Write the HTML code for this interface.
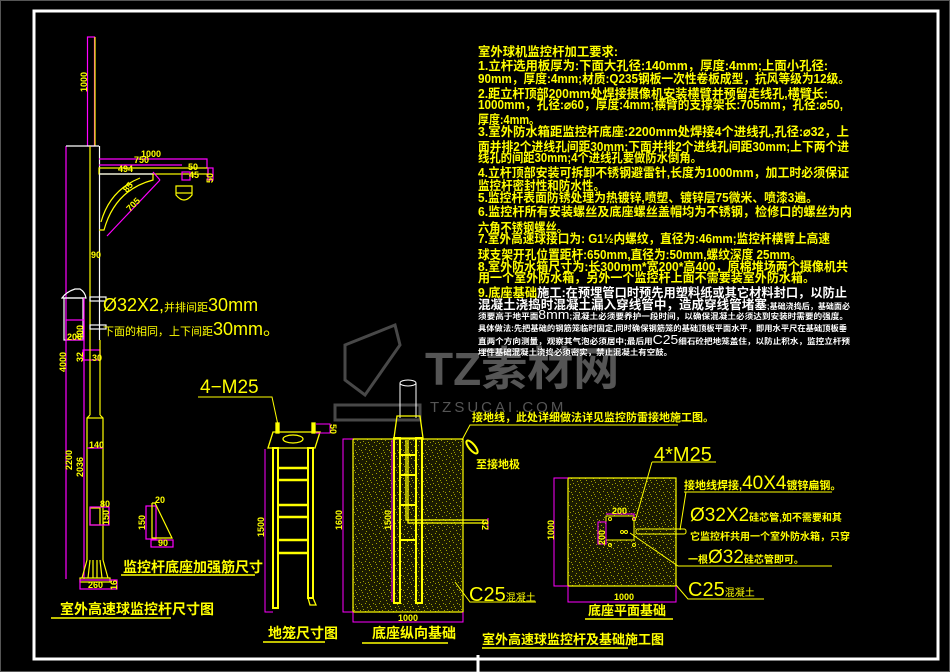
<!DOCTYPE html>
<html><head><meta charset="utf-8"><style>
html,body{margin:0;padding:0;background:#000;}
svg{display:block}
text{font-family:"Liberation Sans","Noto Sans CJK SC","WenQuanYi Zen Hei",sans-serif;}
</style></head><body>
<svg width="950" height="672" viewBox="0 0 950 672" xmlns="http://www.w3.org/2000/svg">
<defs>
<pattern id="st" width="14" height="14" patternUnits="userSpaceOnUse">
<rect width="14" height="14" fill="#1a1a00"/>
<g fill="#a0a000">
<rect x="1" y="1" width="1" height="1"/><rect x="5" y="2" width="1" height="1"/><rect x="9" y="1" width="1" height="1"/><rect x="12" y="4" width="1" height="1"/>
<rect x="3" y="5" width="1" height="1"/><rect x="7" y="6" width="1" height="1"/><rect x="10" y="8" width="1" height="1"/><rect x="1" y="9" width="1" height="1"/>
<rect x="5" y="10" width="1" height="1"/><rect x="8" y="12" width="1" height="1"/><rect x="12" y="11" width="1" height="1"/><rect x="2" y="13" width="1" height="1"/>
<rect x="6" y="4" width="1" height="1"/><rect x="11" y="2" width="1" height="1"/><rect x="4" y="8" width="1" height="1"/><rect x="13" y="7" width="1" height="1"/>
</g></pattern>
</defs>
<rect width="950" height="672" fill="#000"/>
<rect x="0" y="0" width="950" height="672" fill="none" stroke="#555" stroke-width="2"/>
<rect x="34" y="11" width="904" height="648" fill="none" stroke="#fff" stroke-width="3"/>

<!-- watermark -->
<g fill="none" stroke="#5a5a5a" stroke-width="3" opacity="0.8">
<path d="M345 345 L395 325 L400 345 L365 395 L345 380 Z"/>
<path d="M335 405 L420 405 L420 420 L335 420 Z"/>
</g>
<text x="425" y="385" font-size="46" font-weight="bold" fill="#555">TZ素材网</text>
<text x="430" y="412" font-size="15" fill="#555" letter-spacing="3">TZSUCAI.COM</text>

<!-- LEFT POLE -->
<g fill="none" stroke-width="1.2">
<rect x="87.5" y="37" width="7" height="109" stroke="#f0f"/>
<line x1="95" y1="37" x2="95" y2="146" stroke="#ff0"/>
<line x1="66" y1="146" x2="66" y2="579" stroke="#f0f"/>
<line x1="66" y1="146" x2="99" y2="146" stroke="#fff"/>
<line x1="90" y1="146" x2="90" y2="340" stroke="#ff0"/>
<line x1="99.5" y1="146" x2="99.5" y2="340" stroke="#fff"/>
<!-- arm -->
<polyline points="99,159 207,159 207,168" stroke="#f0f"/>
<line x1="99" y1="165" x2="182" y2="165" stroke="#f0f"/>
<rect x="99" y="168" width="109" height="6" stroke="#ff0"/>
<rect x="208" y="168" width="5" height="12" stroke="#f0f"/>
<line x1="99" y1="174" x2="153" y2="174" stroke="#fff"/>
<path d="M153 174 L153 180 Q115 190 104 230 L99 230" stroke="#ff0"/>
<path d="M140 178 Q110 190 101 222" stroke="#ff0"/>
<line x1="160" y1="180" x2="107" y2="236" stroke="#f0f"/>
<line x1="153" y1="172" x2="160" y2="180" stroke="#f0f"/>
<rect x="182" y="172" width="8" height="8" stroke="#f0f"/>
<path d="M176 186 L192 186 L192 195 Q184 205 176 195 Z" stroke="#ff0"/>
<line x1="176" y1="193" x2="192" y2="193" stroke="#ff0"/>
<!-- junction box -->
<path d="M62 298 Q66 292 75 289 L80 289 Q85 292 86 298 Z" stroke="#fff"/>
<rect x="64" y="298" width="19" height="42" stroke="#fff"/>
<rect x="66" y="320" width="18" height="20" stroke="#f0f"/>
<line x1="84" y1="298" x2="84" y2="579" stroke="#f0f"/>
<rect x="90" y="297" width="16" height="4" stroke="#fff"/>
<rect x="90" y="325" width="16" height="4" stroke="#fff"/>
<rect x="83" y="350" width="17" height="10" stroke="#f0f"/>
<!-- lower pole -->
<line x1="90" y1="340" x2="90" y2="415" stroke="#ff0"/>
<line x1="100" y1="340" x2="100" y2="415" stroke="#ff0"/>
<path d="M90 415 L87 418 L87 560 M100 415 L103 418 L103 560" stroke="#ff0"/>
<line x1="87" y1="418" x2="103" y2="418" stroke="#ff0"/>
<line x1="87" y1="448" x2="103" y2="448" stroke="#f0f"/>
<path d="M87 560 L82 578 M103 560 L108 578 M90 560 L88 578 M93 560 L93 578 M97 560 L97 578 M100 560 L102 578" stroke="#ff0"/>
<rect x="80" y="578" width="30" height="4" stroke="#ff0"/>
<rect x="80" y="580" width="37" height="9" stroke="#f0f"/>
<rect x="90" y="508" width="10" height="17" stroke="#ff0"/>
<rect x="90" y="507" width="19" height="18" stroke="#f0f"/>
<!-- gusset -->
<rect x="146" y="506" width="10" height="33" stroke="#f0f"/>
<rect x="151" y="540" width="22" height="7" stroke="#f0f"/>
<polyline points="152,503 152,538 172,538 155,503 152,503" stroke="#ff0"/>
</g>
<g fill="#ff0" font-weight="bold" font-size="9">
<text transform="translate(87,92) rotate(-90)">1000</text>
<text x="141" y="157" fill="#ff0">1000</text>
<text x="134" y="163">750</text>
<text x="118" y="172">494</text>
<text x="188" y="170">50</text>
<text x="189" y="178">45</text>
<text transform="translate(213,183) rotate(-90)">50</text>
<text transform="translate(127,193) rotate(-50)">85</text>
<text transform="translate(130,212) rotate(-45)">705</text>
<text x="91" y="258">90</text>
<text transform="translate(83,340) rotate(-90)">400</text>
<text x="67" y="340">200</text>
<text transform="translate(66,372) rotate(-90)">4000</text>
<text transform="translate(83,362) rotate(-90)">32</text>
<text x="92" y="361">30</text>
<text x="89" y="448">140</text>
<text transform="translate(72,470) rotate(-90)">2200</text>
<text transform="translate(83,477) rotate(-90)">2036</text>
<text x="100" y="507">80</text>
<text transform="translate(109,525) rotate(-90)">150</text>
<text x="88" y="588">260</text>
<text transform="translate(117,590) rotate(-90)">16</text>
<text x="155" y="503">20</text>
<text transform="translate(145,530) rotate(-90)">150</text>
<text x="158" y="546">90</text>
</g>
<text x="103" y="311" font-size="18" fill="#ff0">Ø32X2,<tspan font-size="11">并排间距</tspan>30mm</text>
<text x="103" y="335" font-size="11" fill="#ff0">下面的相同，上下间距<tspan font-size="18">30mm。</tspan></text>
<text x="123" y="572" font-size="14" font-weight="bold" fill="#ff0">监控杆底座加强筋尺寸</text>
<line x1="121" y1="575" x2="255" y2="575" stroke="#ff0" stroke-width="1.5"/>
<text x="60" y="614" font-size="14" font-weight="bold" fill="#ff0">室外高速球监控杆尺寸图</text>
<line x1="51" y1="618" x2="171" y2="618" stroke="#ff0" stroke-width="1.5"/>

<!-- CAGE -->
<text x="200" y="393" font-size="19" fill="#ff0">4−M25</text>
<polyline points="198,397 272,397 278,425" fill="none" stroke="#ff0"/>
<g fill="none" stroke="#ff0" stroke-width="1.3">
<path d="M268 448 L273 432 L320 432 L315 448 Z"/>
<ellipse cx="293" cy="439" rx="10" ry="4"/>
<rect x="276" y="423" width="3" height="10" fill="#ff0"/>
<rect x="312" y="423" width="3" height="10" fill="#ff0"/>
<rect x="273" y="448" width="5" height="160" stroke-width="2"/>
<rect x="308" y="448" width="5" height="150" stroke-width="2"/>
<path d="M308 598 L310 605 L316 605 L313 598"/>
<g stroke-width="2.5"><line x1="278" y1="468" x2="308" y2="468"/><line x1="278" y1="480" x2="308" y2="480"/><line x1="278" y1="505" x2="308" y2="505"/><line x1="278" y1="517" x2="308" y2="517"/><line x1="278" y1="540" x2="308" y2="540"/><line x1="278" y1="553" x2="308" y2="553"/></g>
</g>
<polyline points="265,449 265,612 273,612" fill="none" stroke="#f0f"/>
<polyline points="316,424 330,424 330,433 316,433" fill="none" stroke="#f0f"/>
<g fill="#ff0" font-weight="bold" font-size="9">
<text transform="translate(264,537) rotate(-90)">1500</text>
<text transform="translate(330,424) rotate(90)">50</text>
</g>
<text x="268" y="638" font-size="14" font-weight="bold" fill="#ff0">地笼尺寸图</text>
<line x1="263" y1="642" x2="325" y2="642" stroke="#ff0" stroke-width="1.5"/>

<!-- LONGITUDINAL FOUNDATION -->
<rect x="353" y="439" width="110" height="173" fill="url(#st)" stroke="#ff0" stroke-width="1.2"/>
<g fill="none" stroke="#fff" stroke-width="1">
<ellipse cx="408" cy="383" rx="8" ry="3"/>
<line x1="400" y1="383" x2="400" y2="418"/><line x1="416" y1="383" x2="416" y2="418"/>
</g>
<g fill="none" stroke="#ff0" stroke-width="1.3">
<path d="M394 438 L397 416 L420 416 L423 438 Z"/>
<rect x="394" y="438" width="6" height="165" stroke-width="2"/>
<rect x="416" y="438" width="6" height="165" stroke-width="2"/>
<g stroke-width="2"><line x1="400" y1="455" x2="416" y2="455"/><line x1="400" y1="475" x2="416" y2="475"/><line x1="400" y1="505" x2="416" y2="505"/><line x1="400" y1="540" x2="416" y2="540"/></g>
<polyline points="406,440 406,520 488,520"/><polyline points="408,440 408,523 488,523"/>
</g>
<polyline points="353,439 343,439 343,612 353,612" fill="none" stroke="#f0f"/>
<polyline points="353,612 353,622 463,622 463,612" fill="none" stroke="#f0f"/>
<line x1="392" y1="440" x2="392" y2="602" stroke="#f0f"/>
<line x1="488" y1="518" x2="488" y2="530" stroke="#f0f"/>
<g fill="#ff0" font-weight="bold" font-size="9">
<text transform="translate(342,530) rotate(-90)">1600</text>
<text transform="translate(391,530) rotate(-90)">1500</text>
<text transform="translate(482,520) rotate(90)">32</text>
<text x="398" y="621">1000</text>
</g>
<text x="372" y="638" font-size="14" font-weight="bold" fill="#ff0">底座纵向基础</text>
<line x1="362" y1="643" x2="448" y2="643" stroke="#ff0" stroke-width="1.5"/>
<text x="472" y="421" font-size="11" font-weight="bold" fill="#ff0">接地线，此处详细做法详见监控防雷接地施工图。</text>
<polyline points="678,425 470,425 462,440" fill="none" stroke="#ff0"/>
<ellipse cx="472" cy="447" rx="3" ry="8" transform="rotate(-40 472 447)" fill="none" stroke="#ff0" stroke-width="2"/>
<text x="476" y="468" font-size="11" font-weight="bold" fill="#ff0">至接地极</text>
<text x="469" y="601" font-size="20" fill="#ff0">C25<tspan font-size="10">混凝土</tspan></text>
<polyline points="455,582 470,602 536,602" fill="none" stroke="#ff0"/>

<!-- PLAN -->
<rect x="568" y="478" width="108" height="108" fill="url(#st)" stroke="#ff0" stroke-width="1.2"/>
<polyline points="568,478 554,478 554,586 568,586" fill="none" stroke="#f0f"/>
<polyline points="568,586 568,602 676,602 676,586" fill="none" stroke="#f0f"/>
<rect x="606" y="516" width="28" height="24" fill="#000" stroke="#ff0"/>
<polyline points="606,514 634,514 634,520" fill="none" stroke="#f0f"/>
<rect x="598" y="522" width="8" height="22" fill="none" stroke="#f0f"/>
<g fill="none" stroke="#ff0"><circle cx="610" cy="519" r="1.5"/><circle cx="634" cy="519" r="1.5"/><circle cx="610" cy="545" r="1.5"/><circle cx="634" cy="545" r="1.5"/><circle cx="622" cy="532" r="1.5"/><circle cx="626" cy="532" r="1.5"/>
<rect x="636" y="529" width="50" height="5" rx="2"/>
<polyline points="652,462 716,462"/><line x1="652" y1="462" x2="636" y2="518"/>
<polyline points="684,492 832,492"/><polyline points="686,492 680,530"/>
<polyline points="630,533 678,566 832,566"/>
<polyline points="676,585 688,599 764,599"/>
</g>
<g fill="#ff0" font-weight="bold" font-size="9">
<text transform="translate(554,540) rotate(-90)">1000</text>
<text x="612" y="514">200</text>
<text transform="translate(605,545) rotate(-90)">200</text>
<text x="614" y="600">1000</text>
</g>
<text x="654" y="461" font-size="20" fill="#ff0">4*M25</text>
<text x="684" y="489" font-size="11" font-weight="bold" fill="#ff0">接地线焊接,<tspan font-size="19" font-weight="normal">40X4</tspan>镀锌扁钢。</text>
<text x="690" y="521" font-size="10" font-weight="bold" fill="#ff0"><tspan font-size="19" font-weight="normal">Ø32X2</tspan>硅芯管,如不需要和其</text>
<text x="690" y="540" font-size="10" font-weight="bold" fill="#ff0">它监控杆共用一个室外防水箱，只穿</text>
<text x="688" y="563" font-size="10" font-weight="bold" fill="#ff0">一根<tspan font-size="19" font-weight="normal">Ø32</tspan>硅芯管即可。</text>
<text x="688" y="596" font-size="20" fill="#ff0">C25<tspan font-size="10">混凝土</tspan></text>
<text x="588" y="615" font-size="13" font-weight="bold" fill="#ff0">底座平面基础</text>
<line x1="585" y1="619" x2="673" y2="619" stroke="#ff0" stroke-width="1.5"/>
<text x="482" y="644" font-size="13" font-weight="bold" fill="#ff0">室外高速球监控杆及基础施工图</text>
<line x1="482" y1="648" x2="628" y2="648" stroke="#ff0" stroke-width="1.5"/>

<!-- REQUIREMENTS TEXT -->
<g font-size="12.5" font-weight="bold" fill="#ff0" lengthAdjust="spacingAndGlyphs">
<text x="478" y="56" textLength="140" lengthAdjust="spacingAndGlyphs">室外球机监控杆加工要求:</text>
<text x="478" y="70" textLength="350" lengthAdjust="spacingAndGlyphs">1.立杆选用板厚为:下面大孔径:140mm，厚度:4mm;上面小孔径:</text>
<text x="478" y="83" textLength="372" lengthAdjust="spacingAndGlyphs">90mm，厚度:4mm;材质:Q235钢板一次性卷板成型，抗风等级为12级。</text>
<text x="478" y="98" textLength="350" lengthAdjust="spacingAndGlyphs">2.距立杆顶部200mm处焊接摄像机安装横臂并预留走线孔,横臂长:</text>
<text x="478" y="109" textLength="365" lengthAdjust="spacingAndGlyphs">1000mm，孔径:⌀60，厚度:4mm;横臂的支撑架长:705mm，孔径:⌀50,</text>
<text x="478" y="124" textLength="62" lengthAdjust="spacingAndGlyphs">厚度:4mm。</text>
<text x="478" y="136" textLength="371" lengthAdjust="spacingAndGlyphs">3.室外防水箱距监控杆底座:2200mm处焊接4个进线孔,孔径:⌀32，上</text>
<text x="478" y="151" textLength="371" lengthAdjust="spacingAndGlyphs">面并排2个进线孔间距30mm;下面并排2个进线孔间距30mm;上下两个进</text>
<text x="478" y="162" textLength="224" lengthAdjust="spacingAndGlyphs">线孔的间距30mm;4个进线孔要做防水倒角。</text>
<text x="478" y="177" textLength="371" lengthAdjust="spacingAndGlyphs">4.立杆顶部安装可拆卸不锈钢避雷针,长度为1000mm，加工时必须保证</text>
<text x="478" y="190" textLength="127" lengthAdjust="spacingAndGlyphs">监控杆密封性和防水性。</text>
<text x="478" y="202" textLength="340" lengthAdjust="spacingAndGlyphs">5.监控杆表面防锈处理为热镀锌,喷塑、镀锌层75微米、喷漆3遍。</text>
<text x="478" y="216" textLength="374" lengthAdjust="spacingAndGlyphs">6.监控杆所有安装螺丝及底座螺丝盖帽均为不锈钢，检修口的螺丝为内</text>
<text x="478" y="232" textLength="90" lengthAdjust="spacingAndGlyphs">六角不锈钢螺丝。</text>
<text x="478" y="243" textLength="352" lengthAdjust="spacingAndGlyphs">7.室外高速球接口为:  G1½内螺纹，直径为:46mm;监控杆横臂上高速</text>
<text x="478" y="259" textLength="324" lengthAdjust="spacingAndGlyphs">球支架开孔位置距杆:650mm,直径为:50mm,螺纹深度 25mm。</text>
<text x="478" y="271" textLength="370" lengthAdjust="spacingAndGlyphs">8.室外防水箱尺寸为:长300mm*宽200*高400，原棉堆场两个摄像机共</text>
<text x="478" y="282" textLength="337" lengthAdjust="spacingAndGlyphs">用一个室外防水箱，另外一个监控杆上面不需要装室外防水箱。</text>
<text x="478" y="297" textLength="369" lengthAdjust="spacingAndGlyphs">9.底座基础<tspan fill="#fff">施工:在预埋管口时预先用塑料纸或其它材料封口，以防止</tspan></text>
<text x="478" y="309" fill="#fff" textLength="372" lengthAdjust="spacingAndGlyphs">混凝土浇捣时混凝土漏入穿线管中，造成穿线管堵塞<tspan font-size="8">;基础浇捣后，基础面必</tspan></text>
</g>
<g font-size="8" font-weight="bold" fill="#fff">
<text x="478" y="319" textLength="370" lengthAdjust="spacingAndGlyphs">须要高于地平面<tspan font-size="13" font-weight="normal">8mm</tspan>;混凝土必须要养护一段时间，以确保混凝土必须达到安装时需要的强度。</text>
<text x="478" y="331" textLength="369" lengthAdjust="spacingAndGlyphs">具体做法:先把基础的钢筋笼临时固定,同时确保钢筋笼的基础顶板平面水平，即用水平尺在基础顶板垂</text>
<text x="478" y="344" textLength="372" lengthAdjust="spacingAndGlyphs">直两个方向测量，观察其气泡必须居中;最后用<tspan font-size="13" font-weight="normal">C25</tspan>细石砼把地笼盖住，以防止积水，监控立杆预</text>
<text x="478" y="355" textLength="194" lengthAdjust="spacingAndGlyphs">埋件基础混凝土浇捣必须密实，禁止混凝土有空鼓。</text>
</g>
<line x1="478" y1="655" x2="478" y2="672" stroke="#fff" stroke-width="3"/>
</svg>
</body></html>
